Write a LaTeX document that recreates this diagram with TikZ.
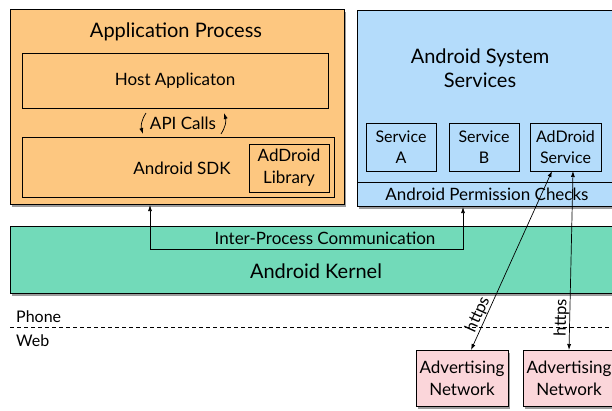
\documentclass[tikz,border=0pt]{standalone}
\usepackage{fontspec}
\setmainfont{Lato}
\usetikzlibrary{shadows,arrows.meta}
\definecolor{apporange}{RGB}{253,199,128}
\definecolor{sysblue}{RGB}{180,220,251}
\definecolor{kgreen}{RGB}{114,218,185}
\definecolor{adpink}{RGB}{251,214,218}
\tikzset{
  box/.style={draw=black, line width=0.8pt, rectangle, inner sep=0pt, align=center},
  shad/.style={drop shadow={shadow xshift=2pt, shadow yshift=-3pt, opacity=0.55, fill=black!70}},
  arr/.style={-{Latex[length=6pt,width=4pt]}, line width=0.7pt},
  darr/.style={{Latex[length=6pt,width=4pt]}-{Latex[length=6pt,width=4pt]}, line width=0.7pt},
  big/.style={font=\fontsize{20}{24}\selectfont},
  mid/.style={font=\fontsize{17}{22}\selectfont},
  small/.style={font=\fontsize{16}{21}\selectfont},
}
\begin{document}
\begin{tikzpicture}[x=1pt,y=-1pt]
\clip (0,0) rectangle (612,410);
\fill[white] (0,0) rectangle (612,410);
% Application process
\node[box, shad, fill=apporange, minimum width=334pt, minimum height=195pt] (app) at (177,106.5) {};
\node[big] (apptitle) at (176,32) {Application Process};
\node[box, mid, minimum width=306pt, minimum height=55pt] (host) at (175,80.5) {Host Applicaton};
\node[box, minimum width=312pt, minimum height=60pt] (sdk) at (178,167) {};
\node[mid] (sdktext) at (182,168) {Android SDK};
\node[box, mid, minimum width=80pt, minimum height=48pt] (lib) at (289,168) {AdDroid\\Library};
\node[mid] (api) at (183,123) {API Calls};
\coordinate (d1) at (146,113);
\coordinate (d2) at (143,134);
\coordinate (u1) at (221,134);
\coordinate (u2) at (224,113);
\draw[arr] (d1) to[bend right=25] (d2);
\draw[arr] (u1) to[bend right=25] (u2);
% System services
\node[box, shad, fill=sysblue, minimum width=263pt, minimum height=196pt] (sys) at (488.5,108) {};
\draw[line width=0.8pt] (357,182) -- (620,182);
\node[big, align=center] (systitle) at (480,68) {Android System\\Services};
\node[box, small, minimum width=70pt, minimum height=48pt] (sa) at (401,147) {Service\\A};
\node[box, small, minimum width=70pt, minimum height=48pt] (sb) at (484,147) {Service\\B};
\node[box, small, minimum width=71pt, minimum height=48pt] (as) at (565.5,147) {AdDroid\\Service};
\node[mid] (perm) at (487,194) {Android Permission Checks};
% Kernel
\node[box, shad, fill=kgreen, minimum width=610pt, minimum height=67pt] (kernel) at (315,259.5) {};
\node[mid] (ipc) at (325,238) {Inter-Process Communication};
\node[big] (ktext) at (316,271) {Android Kernel};
\coordinate (ipcL) at (150,249);
\coordinate (ipcR) at (463,249);
\coordinate (appB) at (150,205);
\coordinate (permB) at (463,207);
\draw[arr] (ipcR) -- (ipcL) -- (appB);
\draw[arr] (ipcL) -- (ipcR) -- (permB);
% Phone / Web
\coordinate (dl) at (10,327);
\coordinate (dr) at (612,327);
\draw[line width=0.6pt, dash pattern=on 4pt off 3pt] (dl) -- (dr);
\node[anchor=west, small, inner sep=0pt] (phone) at (16,317) {Phone};
\node[anchor=west, small, inner sep=0pt] (web) at (16,341) {Web};
% Advertising networks
\node[box, shad, mid, fill=adpink, minimum width=92pt, minimum height=56pt] (ad1) at (462,378) {Advertising\\Network};
\node[box, shad, mid, fill=adpink, minimum width=92pt, minimum height=56pt] (ad2) at (569,378) {Advertising\\Network};
\coordinate (h1t) at (552,171);
\coordinate (h1b) at (471,350);
\coordinate (h2t) at (573,171);
\coordinate (h2b) at (569,350);
\draw[darr] (h1b) -- node[pos=0.18, sloped, anchor=south, inner sep=0.5pt, font=\fontsize{16.5}{19}\selectfont] (https1) {https} (h1t);
\draw[darr] (h2b) -- node[pos=0.18, sloped, anchor=south, inner sep=0.5pt, font=\fontsize{16.5}{19}\selectfont] (https2) {https} (h2t);
\end{tikzpicture}
\end{document}
